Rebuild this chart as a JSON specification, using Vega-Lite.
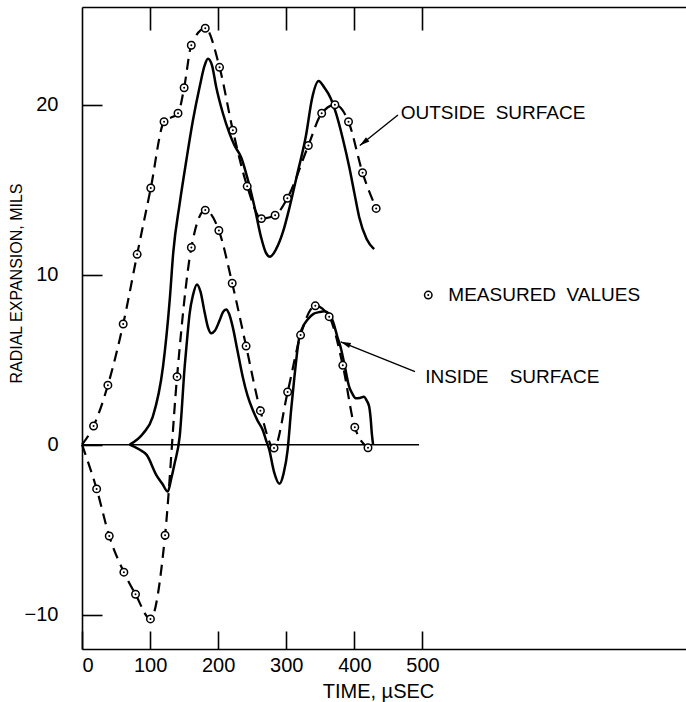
{
  "$schema": "https://vega.github.io/schema/vega-lite/v6.json",
  "width": 604,
  "height": 642,
  "autosize": {"type": "none"},
  "padding": {"left": 82, "top": 7, "right": 0, "bottom": 53},
  "background": "white",
  "config": {
    "view": {"stroke": null},
    "axis": {"grid": false, "domainColor": "black", "domainWidth": 1.6, "tickColor": "black", "tickWidth": 1.6, "labelColor": "black", "titleColor": "black", "labelFont": "Liberation Sans", "titleFont": "Liberation Sans", "titleFontWeight": "normal"}
  },
  "datasets": {
    "zero": [{"t": 0, "v": 0}, {"t": 495, "v": 0}],
    "measured": [
      {"s": "o", "t": 0, "v": 0}, {"s": "o", "t": 17, "v": 1.1}, {"s": "o", "t": 38, "v": 3.5}, {"s": "o", "t": 60.5, "v": 7.1}, {"s": "o", "t": 81, "v": 11.2}, {"s": "o", "t": 101, "v": 15.1}, {"s": "o", "t": 120.5, "v": 19.0}, {"s": "o", "t": 141, "v": 19.5}, {"s": "o", "t": 150, "v": 21.0}, {"s": "o", "t": 160.5, "v": 23.5}, {"s": "o", "t": 181, "v": 24.5}, {"s": "o", "t": 202, "v": 22.2}, {"s": "o", "t": 221.5, "v": 18.5}, {"s": "o", "t": 242.6, "v": 15.2}, {"s": "o", "t": 263.5, "v": 13.3}, {"s": "o", "t": 283.6, "v": 13.5}, {"s": "o", "t": 301.6, "v": 14.5}, {"s": "o", "t": 332.4, "v": 17.6}, {"s": "o", "t": 352, "v": 19.5}, {"s": "o", "t": 371.4, "v": 20.0}, {"s": "o", "t": 391.4, "v": 19.0}, {"s": "o", "t": 412, "v": 16.0}, {"s": "o", "t": 432, "v": 13.9},
      {"s": "i", "t": 0, "v": 0}, {"s": "i", "t": 21.5, "v": -2.6}, {"s": "i", "t": 40, "v": -5.37}, {"s": "i", "t": 61.5, "v": -7.5}, {"s": "i", "t": 78.6, "v": -8.8}, {"s": "i", "t": 100.5, "v": -10.25}, {"s": "i", "t": 122, "v": -5.33}, {"s": "i", "t": 139.6, "v": 4.0}, {"s": "i", "t": 160.6, "v": 11.6}, {"s": "i", "t": 181, "v": 13.8}, {"s": "i", "t": 201, "v": 12.6}, {"s": "i", "t": 220.6, "v": 9.5}, {"s": "i", "t": 241, "v": 5.8}, {"s": "i", "t": 262, "v": 2.0}, {"s": "i", "t": 282, "v": -0.2}, {"s": "i", "t": 302, "v": 3.1}, {"s": "i", "t": 321, "v": 6.45}, {"s": "i", "t": 342.6, "v": 8.17}, {"s": "i", "t": 363, "v": 7.53}, {"s": "i", "t": 383, "v": 4.67}, {"s": "i", "t": 400.6, "v": 1.03}, {"s": "i", "t": 420, "v": -0.18},
      {"s": "key", "t": 508.5, "v": 8.8}
    ],
    "calc": [
      {"s": "o", "t": 70, "v": 0}, {"s": "o", "t": 90, "v": 0.67}, {"s": "o", "t": 104, "v": 1.65}, {"s": "o", "t": 119, "v": 4.6}, {"s": "o", "t": 128.8, "v": 8.5}, {"s": "o", "t": 134, "v": 11.3}, {"s": "o", "t": 143.5, "v": 14.2}, {"s": "o", "t": 153.3, "v": 16.75}, {"s": "o", "t": 163, "v": 19.1}, {"s": "o", "t": 172.8, "v": 21.06}, {"s": "o", "t": 180, "v": 22.3}, {"s": "o", "t": 185, "v": 22.7}, {"s": "o", "t": 191, "v": 22.3}, {"s": "o", "t": 197, "v": 21.06}, {"s": "o", "t": 206.9, "v": 19.5}, {"s": "o", "t": 216.7, "v": 18.3}, {"s": "o", "t": 224, "v": 17.6}, {"s": "o", "t": 233.8, "v": 16.9}, {"s": "o", "t": 243.5, "v": 15.6}, {"s": "o", "t": 253.3, "v": 14.0}, {"s": "o", "t": 263, "v": 12.2}, {"s": "o", "t": 270, "v": 11.3}, {"s": "o", "t": 276, "v": 11.06}, {"s": "o", "t": 285, "v": 11.5}, {"s": "o", "t": 295, "v": 12.5}, {"s": "o", "t": 305, "v": 14.0}, {"s": "o", "t": 316, "v": 15.9}, {"s": "o", "t": 329, "v": 18.2}, {"s": "o", "t": 338, "v": 20.4}, {"s": "o", "t": 347.5, "v": 21.4}, {"s": "o", "t": 356, "v": 21.0}, {"s": "o", "t": 365, "v": 20.4}, {"s": "o", "t": 373, "v": 19.5}, {"s": "o", "t": 383, "v": 18.0}, {"s": "o", "t": 392.4, "v": 16.35}, {"s": "o", "t": 400, "v": 14.8}, {"s": "o", "t": 407, "v": 13.4}, {"s": "o", "t": 418, "v": 12.1}, {"s": "o", "t": 429, "v": 11.5},
      {"s": "i", "t": 70, "v": 0}, {"s": "i", "t": 85, "v": -0.3}, {"s": "i", "t": 95, "v": -0.6}, {"s": "i", "t": 109.4, "v": -1.8}, {"s": "i", "t": 118, "v": -2.3}, {"s": "i", "t": 126, "v": -2.76}, {"s": "i", "t": 131, "v": -2.0}, {"s": "i", "t": 136, "v": -1.1}, {"s": "i", "t": 143.5, "v": 0.5}, {"s": "i", "t": 150.8, "v": 4.6}, {"s": "i", "t": 155, "v": 6.5}, {"s": "i", "t": 158, "v": 7.7}, {"s": "i", "t": 163, "v": 8.8}, {"s": "i", "t": 168.8, "v": 9.43}, {"s": "i", "t": 174, "v": 9.0}, {"s": "i", "t": 180, "v": 7.8}, {"s": "i", "t": 185, "v": 6.9}, {"s": "i", "t": 189.8, "v": 6.55}, {"s": "i", "t": 195, "v": 6.7}, {"s": "i", "t": 202, "v": 7.3}, {"s": "i", "t": 207, "v": 7.8}, {"s": "i", "t": 211.8, "v": 7.96}, {"s": "i", "t": 216, "v": 7.7}, {"s": "i", "t": 221.5, "v": 6.9}, {"s": "i", "t": 228, "v": 5.6}, {"s": "i", "t": 236, "v": 4.0}, {"s": "i", "t": 243, "v": 2.9}, {"s": "i", "t": 250.8, "v": 2.04}, {"s": "i", "t": 258, "v": 1.4}, {"s": "i", "t": 265.4, "v": 0.86}, {"s": "i", "t": 270, "v": 0.3}, {"s": "i", "t": 275, "v": -0.3}, {"s": "i", "t": 282, "v": -1.6}, {"s": "i", "t": 290, "v": -2.3}, {"s": "i", "t": 296, "v": -1.7}, {"s": "i", "t": 302, "v": -0.3}, {"s": "i", "t": 307, "v": 2.0}, {"s": "i", "t": 312, "v": 4.0}, {"s": "i", "t": 319, "v": 6.3}, {"s": "i", "t": 324, "v": 6.9}, {"s": "i", "t": 331, "v": 7.35}, {"s": "i", "t": 340, "v": 7.7}, {"s": "i", "t": 348.5, "v": 7.8}, {"s": "i", "t": 356, "v": 7.85}, {"s": "i", "t": 363, "v": 7.7}, {"s": "i", "t": 369, "v": 7.2}, {"s": "i", "t": 375, "v": 6.35}, {"s": "i", "t": 380, "v": 5.7}, {"s": "i", "t": 385, "v": 4.8}, {"s": "i", "t": 392.4, "v": 3.4}, {"s": "i", "t": 397, "v": 3.0}, {"s": "i", "t": 402, "v": 2.73}, {"s": "i", "t": 408, "v": 2.75}, {"s": "i", "t": 414, "v": 2.82}, {"s": "i", "t": 418, "v": 2.6}, {"s": "i", "t": 421.7, "v": 2.24}, {"s": "i", "t": 424, "v": 1.5}, {"s": "i", "t": 425.6, "v": 0.67}, {"s": "i", "t": 427.5, "v": 0}
    ],
    "labels": [
      {"t": 468, "v": 19.5, "label": "OUTSIDE\u00a0\u00a0SURFACE"},
      {"t": 538, "v": 8.8, "label": "MEASURED\u00a0\u00a0VALUES"},
      {"t": 504, "v": 4.0, "label": "INSIDE\u00a0\u00a0\u00a0\u00a0SURFACE"}
    ],
    "arrows": [
      {"a": "out", "end": "tail", "t": 464, "v": 19.4}, {"a": "out", "end": "head", "t": 408, "v": 17.6},
      {"a": "in", "end": "tail", "t": 489, "v": 4.3}, {"a": "in", "end": "head", "t": 380, "v": 6.05}
    ]
  },
  "resolve": {"axis": {"x": "independent", "y": "independent"}},
  "encoding": {
    "x": {"field": "t", "type": "quantitative", "scale": {"domain": [0, 887], "nice": false, "zero": false}, "axis": null},
    "y": {"field": "v", "type": "quantitative", "scale": {"domain": [-12.02, 25.75], "nice": false, "zero": false}, "axis": null}
  },
  "layer": [
    {
      "data": {"name": "zero"},
      "mark": {"type": "line", "color": "black", "strokeWidth": 1.6},
      "encoding": {
        "x": {"field": "t", "type": "quantitative", "scale": {"domain": [0, 887], "nice": false, "zero": false},
          "axis": {"orient": "bottom", "values": [0, 100, 200, 300, 400, 500], "tickSize": -18, "labelPadding": 24, "labelFontSize": 20, "title": "TIME, \u00b5SEC", "titleFontSize": 20, "titleX": 296, "titleY": 48, "titleAlign": "center", "titleBaseline": "alphabetic"}},
        "y": {"field": "v", "type": "quantitative", "scale": {"domain": [-12.02, 25.75], "nice": false, "zero": false},
          "axis": {"orient": "left", "values": [-10, 0, 10, 20], "tickSize": -20, "labelPadding": 44, "labelFontSize": 20, "title": "RADIAL EXPANSION, MILS", "titleFontSize": 16, "titleX": -66, "titleY": 276, "titleAngle": 270, "titleAlign": "center", "titleBaseline": "middle"}}
      }
    },
    {
      "data": {"name": "calc"},
      "mark": {"type": "line", "color": "black", "strokeWidth": 2.5, "interpolate": "monotone"},
      "encoding": {
        "x": {"field": "t", "type": "quantitative", "scale": {"domain": [0, 887], "nice": false, "zero": false},
          "axis": {"orient": "top", "values": [100, 200, 300, 400, 500], "tickSize": -23, "labels": false, "title": null}},
        "detail": {"field": "s"}
      }
    },
    {
      "data": {"name": "measured"},
      "transform": [{"filter": "datum.s !== 'key'"}],
      "mark": {"type": "line", "color": "black", "strokeWidth": 2.2, "strokeDash": [11, 7], "interpolate": "monotone"},
      "encoding": {"detail": {"field": "s"}}
    },
    {
      "data": {"name": "measured"},
      "transform": [{"filter": "datum.t > 0"}],
      "mark": {"type": "point", "shape": "circle", "size": 56, "fill": "white", "fillOpacity": 1, "stroke": "black", "strokeWidth": 1.5, "opacity": 1}
    },
    {
      "data": {"name": "measured"},
      "transform": [{"filter": "datum.t > 0"}],
      "mark": {"type": "circle", "size": 4, "color": "black", "opacity": 1}
    },
    {
      "data": {"name": "arrows"},
      "mark": {"type": "line", "color": "black", "strokeWidth": 1.4},
      "encoding": {"detail": {"field": "a"}}
    },
    {
      "data": {"name": "arrows"},
      "transform": [{"filter": "datum.a === 'out' && datum.end === 'head'"}],
      "mark": {"type": "point", "shape": "M0,0L-2,-0.55L-2,0.55Z", "size": 100, "angle": 141.7, "filled": true, "color": "black", "opacity": 1}
    },
    {
      "data": {"name": "arrows"},
      "transform": [{"filter": "datum.a === 'in' && datum.end === 'head'"}],
      "mark": {"type": "point", "shape": "M0,0L-2,-0.55L-2,0.55Z", "size": 100, "angle": 201.6, "filled": true, "color": "black", "opacity": 1}
    },
    {
      "data": {"name": "labels"},
      "mark": {"type": "text", "align": "left", "baseline": "middle", "font": "Liberation Sans", "fontSize": 19, "color": "black"},
      "encoding": {"text": {"field": "label"}}
    }
  ]
}
